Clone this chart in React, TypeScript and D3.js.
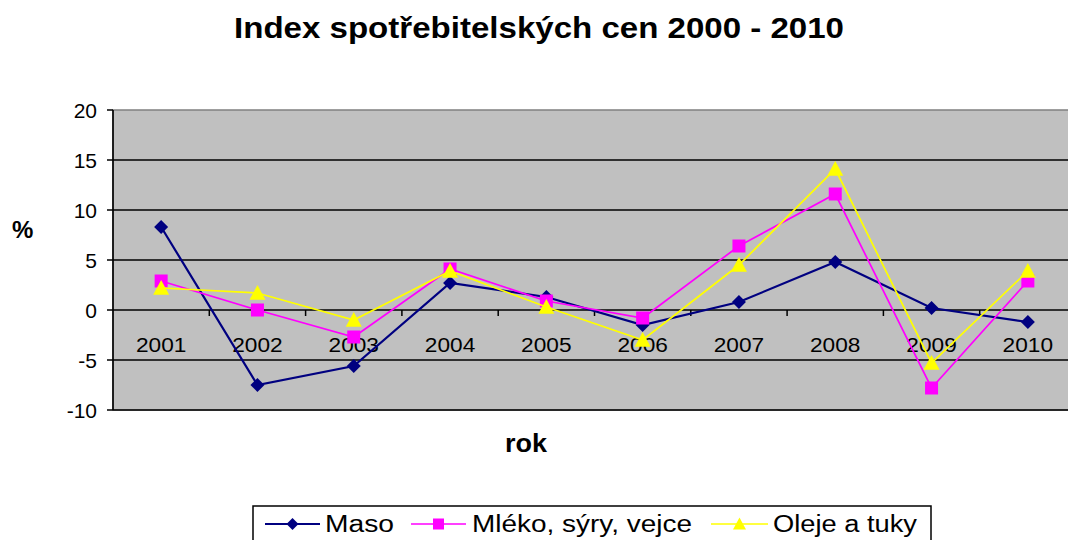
import React from "react";
import * as d3 from "d3";

const years = ["2001", "2002", "2003", "2004", "2005", "2006", "2007", "2008", "2009", "2010"];
const maso = [8.3, -7.5, -5.6, 2.7, 1.3, -1.5, 0.8, 4.8, 0.2, -1.2];
const mleko = [2.9, 0.0, -2.7, 4.1, 0.9, -0.8, 6.4, 11.6, -7.8, 2.9];
const oleje = [2.2, 1.7, -1.0, 3.9, 0.3, -3.0, 4.5, 14.1, -5.3, 3.9];
const yTicks = [-10, -5, 0, 5, 10, 15, 20];
const seriesNames = ["Maso", "Mléko, sýry, vejce", "Oleje a tuky"];
const titleText = "Index spotřebitelských cen 2000 - 2010";

const FONT = "'Liberation Sans', Arial, sans-serif";
const colors = ["#000080", "#FF00FF", "#FFFF00"];
const widths = [2.2, 1.7, 1.7];

function Marker({ kind, x, y, s, color }: { kind: number; x: number; y: number; s: number; color: string }) {
  if (kind === 0) {
    const h = s / 2;
    return <path d={`M${x},${y - h}L${x + h},${y}L${x},${y + h}L${x - h},${y}Z`} fill={color} />;
  }
  if (kind === 1) {
    return <rect x={x - s / 2} y={y - s / 2} width={s} height={s} fill={color} />;
  }
  const h = s / 2;
  return <path d={`M${x},${y - h}L${x + h},${y + h * 0.85}L${x - h},${y + h * 0.85}Z`} fill={color} />;
}

export default function App() {
  const W = 1068, H = 540;
  const left = 113, right = 1076, top = 110, bottom = 410;
  const x = d3.scaleBand<string>().domain(years).range([left, right]);
  const y = d3.scaleLinear().domain([-10, 20]).range([bottom, top]);
  const cx = (yr: string) => (x(yr) as number) + x.bandwidth() / 2;
  const line = d3.line<[string, number]>().x((d) => cx(d[0])).y((d) => y(d[1]));
  const data = [maso, mleko, oleje];
  const markerSizes = [14, 13, 16];

  const legendItems = [
    { lx1: 265, lx2: 320, tx: 325, tw: 69 },
    { lx1: 411, lx2: 466, tx: 472, tw: 220 },
    { lx1: 711, lx2: 768, tx: 773, tw: 144 },
  ];
  const legendMarker = [12, 11, 13];

  return (
    <svg width={W} height={H} style={{ position: "absolute", left: 0, top: 0, background: "#fff" }}>
      <text x={539} y={38} textAnchor="middle" fontFamily={FONT} fontWeight="bold" fontSize={29}
        textLength={610} lengthAdjust="spacingAndGlyphs" fill="#000">{titleText}</text>

      <rect x={left} y={top} width={W + 20 - left} height={bottom - top} fill="#C0C0C0" stroke="#808080" strokeWidth={1.5} />
      {yTicks.map((t) => (
        <g key={t}>
          {t !== 20 && <line x1={left} x2={W} y1={y(t)} y2={y(t)} stroke="#000" strokeWidth={1.6} />}
          <line x1={left - 6} x2={left} y1={y(t)} y2={y(t)} stroke="#000" strokeWidth={1.5} />
          <text x={97} y={y(t) + 7.5} textAnchor="end" fontFamily={FONT} fontSize={21} fill="#000">{t}</text>
        </g>
      ))}
      <line x1={left} x2={left} y1={top} y2={bottom} stroke="#000" strokeWidth={1.6} />
      {years.map((yr, i) => (
        <g key={yr}>
          {i > 0 && <line x1={x(yr) as number} x2={x(yr) as number} y1={y(0)} y2={y(0) + 6} stroke="#000" strokeWidth={1.5} />}
          <text x={cx(yr)} y={y(0) + 42} textAnchor="middle" fontFamily={FONT} fontSize={21} fill="#000"
            transform={`translate(${cx(yr)},0) scale(1.08,1) translate(${-cx(yr)},0)`}>{yr}</text>
        </g>
      ))}

      {data.map((vals, si) => {
        const pts: [string, number][] = years.map((yr, i) => [yr, vals[i]]);
        return (
          <g key={si}>
            <path d={line(pts) || ""} fill="none" stroke={colors[si]} strokeWidth={widths[si]} />
            {pts.map((p, i) => (
              <Marker key={i} kind={si} x={cx(p[0])} y={y(p[1])} s={markerSizes[si]} color={colors[si]} />
            ))}
          </g>
        );
      })}

      <text x={12} y={238} fontFamily={FONT} fontWeight="bold" fontSize={24} fill="#000">%</text>
      <text x={505} y={452} fontFamily={FONT} fontWeight="bold" fontSize={26} fill="#000"
        textLength={42} lengthAdjust="spacingAndGlyphs">rok</text>

      <rect x={253} y={506} width={678} height={44} fill="#fff" stroke="#000" strokeWidth={1.5} />
      {legendItems.map((it, i) => (
        <g key={i}>
          <line x1={it.lx1} x2={it.lx2} y1={524} y2={524} stroke={colors[i]} strokeWidth={widths[i]} />
          <Marker kind={i} x={(it.lx1 + it.lx2) / 2} y={524} s={legendMarker[i]} color={colors[i]} />
          <text x={it.tx} y={532} fontFamily={FONT} fontSize={23} fill="#000"
            textLength={it.tw} lengthAdjust="spacingAndGlyphs">{seriesNames[i]}</text>
        </g>
      ))}
    </svg>
  );
}
